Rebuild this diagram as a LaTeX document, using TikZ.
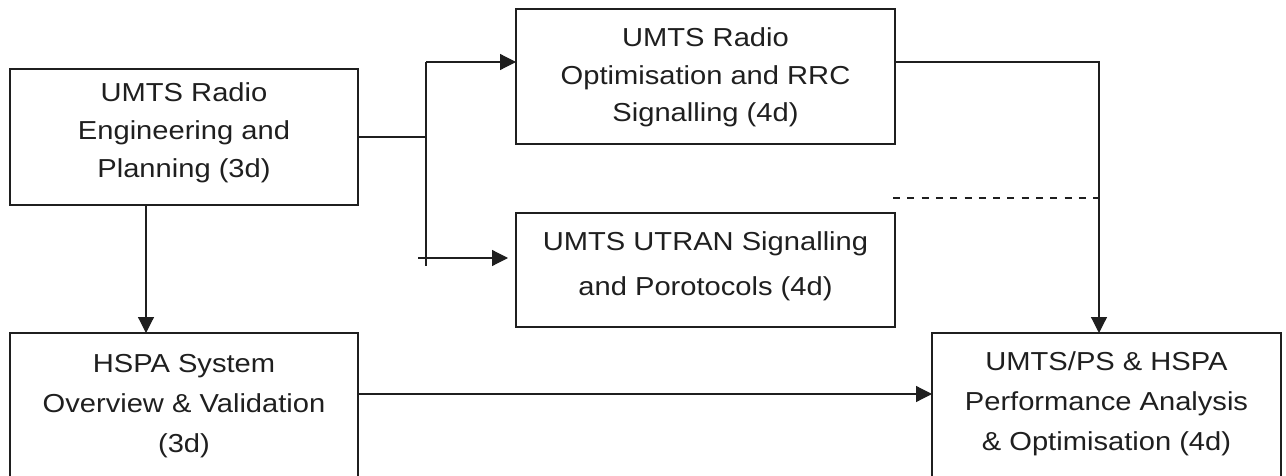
\documentclass[tikz,border=0pt]{standalone}
\usepackage{fontspec}
\setmainfont{Liberation Sans}[FakeStretch=1.12]
\usetikzlibrary{arrows.meta}
\definecolor{ink}{gray}{0.12}
% multi-line course title, first line on the node baseline
\newcommand{\cardtext}[2]{\fontsize{26}{#1}\selectfont\begin{tabular}[t]{@{}c@{}}#2\end{tabular}}
\tikzset{
  card/.style={draw=ink, text=ink, line width=1.2pt, inner sep=0pt, outer sep=0pt, anchor=north west},
  link/.style={draw=ink, line width=1.2pt},
  feed/.style={link, -{Triangle[length=16pt,width=16pt]}},
  hint/.style={link, dash pattern=on 7pt off 7.3pt},
}
\begin{document}
\begin{tikzpicture}[x=1pt, y=-1pt]
\useasboundingbox (0,0) rectangle (1286,476);

% course boxes
\node[card, minimum width=348pt, minimum height=136pt, text height=33pt, text depth=103pt] (a) at (10,69)
  {\cardtext{38pt}{UMTS Radio\\Engineering and\\Planning (3d)}};
\node[card, minimum width=379pt, minimum height=135pt, text height=38pt, text depth=97pt] (b) at (516,9)
  {\cardtext{37.5pt}{UMTS Radio\\Optimisation and RRC\\Signalling (4d)}};
\node[card, minimum width=379pt, minimum height=114pt, text height=37pt, text depth=77pt] (c) at (516,213)
  {\cardtext{45pt}{UMTS UTRAN Signalling\\and Porotocols (4d)}};
\node[card, minimum width=348pt, minimum height=160pt, text height=39pt, text depth=121pt] (d) at (10,333)
  {\cardtext{40pt}{HSPA System\\Overview \& Validation\\(3d)}};
\node[card, minimum width=349pt, minimum height=160pt, text height=37pt, text depth=123pt] (e) at (932,333)
  {\cardtext{40pt}{UMTS/PS \& HSPA\\Performance Analysis\\\& Optimisation (4d)}};

% routing points
\coordinate (fork) at (426,137);
\coordinate (forktop) at (426,62);
\coordinate (forkend) at (426,266);
\coordinate (tailc) at (418,258);
\coordinate (tipc) at (508,258);
\coordinate (downx) at (146,0);
\coordinate (rightx) at (1099,0);
\coordinate (dash0) at (893,198);
\coordinate (lowy) at (0,394);

% connectors
\draw[link] (a.east) -- (fork);
\draw[link] (forktop) -- (forkend);
\draw[feed] (forktop) -- (forktop -| b.west);
\draw[feed] (tailc) -- (tipc);
\draw[feed] (a.south -| downx) -- (d.north -| downx);
\draw[feed] (b.east |- forktop) -| (e.north -| rightx);
\draw[hint] (dash0) -- (dash0 -| rightx);
\draw[feed] (d.east |- lowy) -- (e.west |- lowy);
\end{tikzpicture}
\end{document}
